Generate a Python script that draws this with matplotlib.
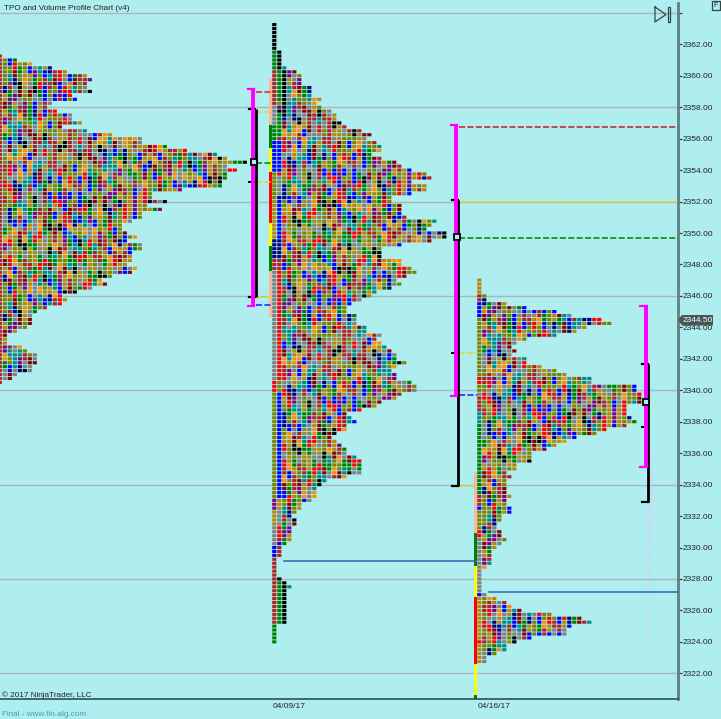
import matplotlib
matplotlib.use("Agg")
import matplotlib.pyplot as plt
from matplotlib.lines import Line2D
from matplotlib.patches import Polygon, Rectangle

plt.rcParams['font.family'] = ['Liberation Sans', 'DejaVu Sans']

BG = '#afeeee'
GRID = '#a8b6b6'
TICK = 0.25

# ---- TPO counts per 0.25 row, top to bottom ----
top_a = 2361.25
counts_a = [0,3,6,10,13,17,18,17,17,18,14,15,10,9,11,14,14,16,12,17,22,28,28,33,37,43,45,49,45,47,45,45,44,44,36,30,30,33,29,32,28,28,26,24,24,
            25,27,25,28,28,26,26,26,25,27,26,22,20,21,18,15,12,13,12,9,7,6,6,6,5,3,1,1,1,4,5,7,7,7,6,6,3,2,0]
top_b = 2363.25
counts_b = [1,1,1,1,1,1,1,2,2,2,2,3,5,6,6,6,8,8,8,10,9,10,12,13,13,14,15,18,20,19,21,22,22,20,22,25,26,28,31,32,28,31,31,28,24,24,26,26,26,27,33,32,31,35,35,32,
            26,22,22,22,26,26,28,29,27,25,26,24,21,20,18,16,15,15,17,17,17,19,19,22,21,22,23,24,25,25,27,25,24,25,25,28,29,29,26,25,22,21,18,15,16,17,15,15,13,12,13,14,15,15,17,18,18,18,18,15,
            11,10,9,9,9,8,6,6,5,4,5,5,4,4,4,4,3,2,2,2,1,1,1,1,1,2,3,4,3,3,3,3,3,3,3,3,3,1,1,1,1,1]
top_c = 2347.0
counts_c = [1,1,1,1,2,2,6,10,16,19,25,27,22,20,16,10,8,7,8,7,10,10,13,16,18,23,23,32,32,33,33,33,30,30,30,31,32,30,26,24,20,18,16,14,11,11,11,8,8,6,7,6,6,6,6,7,6,
            6,7,7,5,5,4,4,5,5,6,5,4,3,3,3,3,2,1,1,1,1,1,1,2,4,6,7,9,15,21,23,19,18,18,11,8,6,6,4,2,2]

# ---- period colours ----
COL = dict(k='#000000', g='#008000', f='#b22222', y='#808000', o='#b8860b', a='#808080', b='#0000ff',
           n='#000080', r='#ff0000', p='#800080', c='#008b8b', d='#8b0000', e='#ff8c00')
period_order = ['o', 'a', 'r', 'f', 'y', 'g', 'a', 'b', 'o', 'e', 'y', 'c', 'f', 'a', 'n', 'r', 'o',
                'p', 'g', 'y', 'd', 'a', 'b', 'e', 'k', 'c', 'o', 'f', 'y']

# column colour runs (colour, rows); '-' leaves the row to the period rotation
runs_b = [
    [('k',7),('g',5),('f',9),('a',5),('g',4),('b',8),('y',7),('o',10),('n',5),('f',3),('a',28),('r',3),('y',27),('p',3),('o',4),('a',5),('b',3),('f',17),('g',5)],
    [('-',7),('k',5),('g',8),('y',1),('p',1),('k',1),('g',6),('f',1),('b',8),('r',1),('a',5),('n',1),('b',10),('n',5),('f',3),('r',28),('y',3),('b',27),('o',3),('a',4),('r',4),('b',1),('f',3),('-',5),('k',1),('g',11)],
    [('-',11),('c',1),('k',12),('-',118),('k',11)],
]
runs_c = [
    [('o',4),('f',2),('b',4),('y',15),('r',2),('y',2),('a',1),('f',4),('c',3),('g',18),('f',3),('b',1),('y',5),('r',2),('a',14),('b',1),('o',11),('r',1),('o',5)],
]
runs_a = [[('f',84)]]

# ---- overlay levels (price) ----
profiles_bars = [
    dict(x=253.3, mag=(2359.14, 2345.38), blk=(2357.89, 2345.91), poc=2354.5, tick=2353.25),
    dict(x=456.0, mag=(2356.89, 2339.63), blk=(2352.10, 2333.93), poc=2349.77, tick=2342.39),
    dict(x=645.5, mag=(2345.38, 2335.14), blk=(2341.67, 2332.89), poc=2339.25, tick=2337.68),
]
dash_levels = [
    (2358.97, 256, 272, '#e02020'), (2357.70, 256, 272, '#f2d21a'), (2354.47, 256, 272, '#008000'),
    (2353.25, 256, 272, '#f2d21a'), (2345.95, 256, 272, '#f2d21a'), (2345.44, 256, 272, '#1a1aff'),
    (2356.74, 459, 678, '#c02020'), (2351.97, 459, 678, '#f2d21a'), (2349.71, 459, 678, '#008000'),
    (2342.39, 459, 477, '#f2d21a'), (2339.70, 459, 477, '#1a1aff'), (2333.91, 459, 476, '#f2d21a'),
]
naked_levels = [(2329.16, 284, 476), (2327.20, 489, 677)]
strip_b = [(2359.84, 2356.87, '#f6b89e'), (2356.87, 2355.39, '#008000'), (2355.39, 2353.86, '#ffff00'),
           (2353.86, 2350.62, '#ff0000'), (2350.62, 2349.17, '#ffff00'), (2349.17, 2347.58, '#008000'),
           (2347.58, 2344.64, '#f6b89e')]
strip_c = [(2334.82, 2330.90, '#f6b89e'), (2330.90, 2328.84, '#008000'), (2328.84, 2326.87, '#ffff00'),
           (2326.87, 2322.59, '#ff0000'), (2322.59, 2320.62, '#ffff00'), (2320.62, 2320.3, '#008000')]

# pale volume histograms: top price, widths per 1.0 price step
vol_a = (2362.75, [1,1,2,1,2,2,3,3,3,4,5,4,3,3,3,4,4,3,2,2])
vol_b = (2361.5, [1,1,1,1,1,1,1,1,1,2,2,2,2,3,3,3,4,3,2,2,3,2,3,3,2,3,2,2,1,1,1,1,1,1,0,0,1,1])
vol_c = (2345.5, [1,2,2,2,2,2,2,3,3,4,5,6,8,7,6,5,4,3,2,2,2,2,1,1,1,1,1,1])

price_ticks = list(range(2322, 2364, 2))
grid_prices = [2322, 2328, 2334, 2340, 2346, 2352, 2358, 2364]
date_labels = ['04/09/17', '04/16/17']
date_pos = [289, 494]
last_price = 2344.5

# ---- figure ----
fig = plt.figure(figsize=(7.21, 7.19), dpi=100, facecolor=BG)
H = 719.0
ax = fig.add_axes([0, 1 - 699.3 / H, 678 / 721, 699.3 / H], facecolor=BG)
PX = 15.725
ax.set_xlim(0, 678)
ax.set_ylim(2362 - (699.3 - 44.3) / PX, 2362 + 44.3 / PX)

for p in grid_prices:
    ax.axhline(p, color=GRID, lw=1.0, zorder=1)


def expand(runs):
    out = []
    for c, n in runs:
        out += [c] * n
    return out


def draw_profile(top, counts, x0, runs, salt):
    cols = [expand(r) for r in runs]
    for r, n in enumerate(counts):
        y = top - r * TICK
        for c in range(n):
            key = None
            if c < len(cols) and r < len(cols[c]) and cols[c][r] != '-':
                key = cols[c][r]
            if key is None:
                band = (r + c * 5 + salt) // 2
                idx = (c * c * 13 + band * band * 17 + c * band * 11 + band * 5 + c * 3) % len(period_order)
                key = period_order[idx]
            ax.add_patch(Rectangle((x0 + c * 5, y - 0.1), 4.2, 0.2, fc=COL[key], ec='none', zorder=3, snap=False))


draw_profile(top_a, [n + 1 for n in counts_a], -2.3, runs_a, 3)
draw_profile(top_b, counts_b, 272.2, runs_b, 1)
draw_profile(top_c, counts_c, 477.2, runs_c, 6)

# volume histograms
for (ptop, widths), x in zip((vol_a, vol_b, vol_c), (255, 457.5, 647)):
    for i, w in enumerate(widths):
        ax.barh(ptop - i, w, height=0.85, left=x, color='#c5dcf5', alpha=0.8, lw=0, zorder=2)

# range strips
for strip, x in ((strip_b, 269.4), (strip_c, 474.2)):
    for hi, lo, col in strip:
        ax.add_patch(Rectangle((x, lo), 2.8, hi - lo, fc=col, ec='none', zorder=4))

# dashed levels
for p, x0, x1, col in dash_levels:
    ax.plot([x0, x1], [p, p], color=col, lw=1.1, ls=(0, (4, 1.5)), zorder=5)
for p, x0, x1 in naked_levels:
    ax.plot([x0, x1], [p, p], color='#3a5fb0', lw=1.1, zorder=5)

# value-area and range bars
for b in profiles_bars:
    x = b['x']
    ax.plot([x + 2.4, x + 2.4], b['blk'], color='black', lw=2, solid_capstyle='butt', zorder=6)
    for p in b['blk']:
        ax.plot([x - 4, x + 2], [p, p], color='black', lw=1.6, zorder=6)
    ax.plot([x, x], b['mag'], color='#ff00ff', lw=2.8, solid_capstyle='butt', zorder=7)
    for p in b['mag']:
        ax.plot([x - 5.5, x + 1], [p, p], color='#ff00ff', lw=1.6, zorder=7)
    ax.plot([x - 4, x + 1], [b['tick'], b['tick']], color='black', lw=1.4, zorder=6)
    ax.plot([x + 0.8], [b['poc']], marker='s', ms=4, mfc=BG, mec='black', mew=1.3, zorder=8)

# axes furniture
ax.yaxis.tick_right()
ax.set_yticks(price_ticks + [2364])
ax.set_yticklabels(['%.2f' % p for p in price_ticks] + [''], fontsize=6.0, color='#222222')
ax.set_xticks(date_pos)
ax.set_xticklabels(date_labels, fontsize=6.0, color='#222222')
ax.tick_params(axis='y', length=2.8, width=0.9, color='#2f3f3f', pad=0.3)
ax.tick_params(axis='x', length=0, pad=3)
for s in ('top', 'left'):
    ax.spines[s].set_visible(False)
ax.spines['right'].set_color('#5f8080')
ax.spines['right'].set_linewidth(2)
ax.spines['right'].set_bounds(ax.get_ylim()[0], 2362 + 41 / PX)
ax.spines['bottom'].set_color('#2f4f4f')
ax.spines['bottom'].set_linewidth(1.2)


def fx(x):
    return x / 721.0


def fy(y):
    return 1 - y / H


# last price tag
tag = Polygon([(fx(678), fy(320)), (fx(682), fy(315)), (fx(713), fy(315)), (fx(713), fy(325.5)), (fx(682), fy(325.5))],
              closed=True, fc='#4a5555', ec='none', transform=fig.transFigure, zorder=10)
fig.add_artist(tag)
fig.text(fx(697.5), fy(320.3), '%.2f' % last_price, color='white', fontsize=6.0, ha='center', va='center', zorder=11)

# chart chrome
fig.text(fx(4), fy(8), 'TPO and Volume Profile Chart (v4)', fontsize=5.9, color='#222222', va='center', ha='left')
fig.text(fx(2), fy(695), '\u00a9 2017 NinjaTrader, LLC', fontsize=5.9, color='#222222', va='center', ha='left')
fig.text(fx(2), fy(714), 'Final - www.fin-alg.com', fontsize=5.9, color='#3f9fc0', va='center', ha='left')
fig.add_artist(Line2D([fx(655), fx(666), fx(655), fx(655)], [fy(7), fy(14.5), fy(22), fy(7)], color='#304848', lw=0.9, transform=fig.transFigure))
fig.add_artist(Rectangle((fx(667.5), fy(22)), 2.5 / 721, 15 / H, fc='none', ec='#304848', lw=0.9, transform=fig.transFigure))
fig.add_artist(Rectangle((fx(711.5), fy(10)), 8.5 / 721, 9 / H, fc='none', ec='#304848', lw=0.9, transform=fig.transFigure))
fig.text(fx(715.8), fy(5.5), 'F', fontsize=5, color='#222222', ha='center', va='center')

fig.savefig('out.png', dpi=100, facecolor=BG)
